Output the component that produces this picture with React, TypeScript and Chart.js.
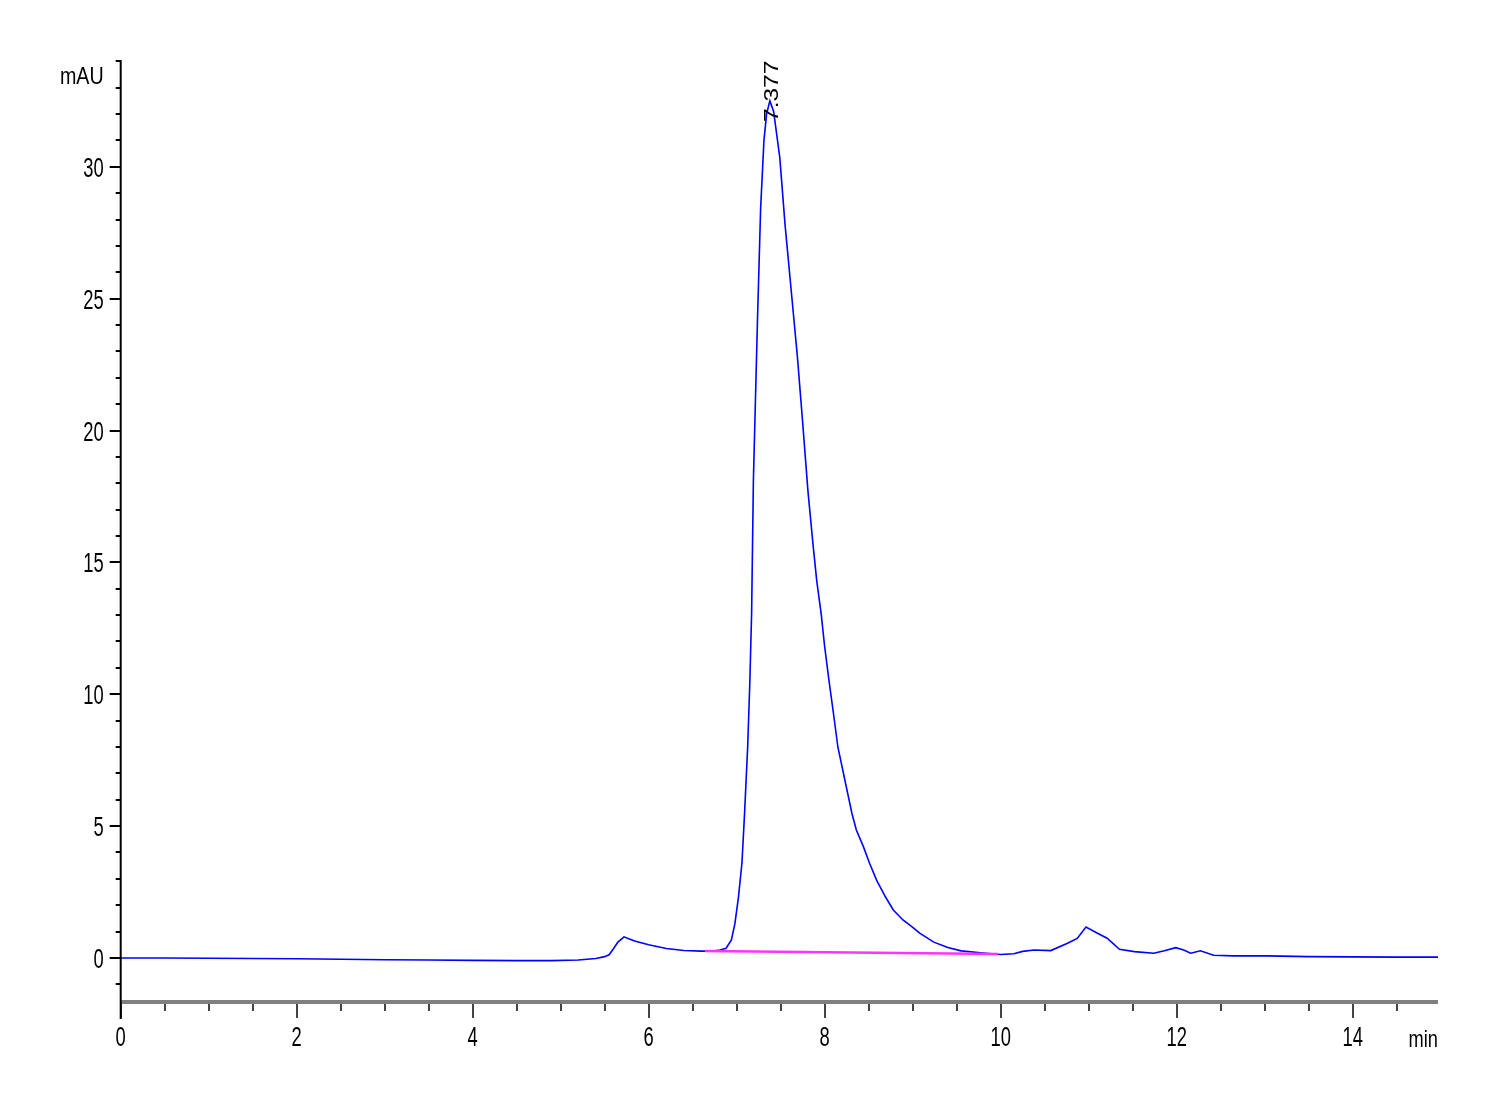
import { useEffect, useRef } from "react";
import { Chart, registerables } from "chart.js";

Chart.register(...registerables);

// Chromatogram trace (retention time in min, absorbance in mAU)
const TIME = [
  0.0, 0.5, 1.0, 1.5, 2.0, 2.5, 3.0, 3.5, 4.0, 4.5, 4.9, 5.2, 5.4, 5.5, 5.55, 5.6, 5.65, 5.72, 5.78, 5.85,
  6.0, 6.2, 6.4, 6.6, 6.75, 6.81, 6.88, 6.94, 6.98, 7.02, 7.06, 7.09, 7.125, 7.15, 7.17, 7.18, 7.19, 7.235,
  7.272, 7.31, 7.34, 7.377, 7.42, 7.49, 7.55, 7.62, 7.69, 7.75, 7.81, 7.87, 7.91, 7.96, 8.0, 8.05, 8.1, 8.15,
  8.23, 8.31, 8.36, 8.44, 8.51, 8.59, 8.69, 8.78, 8.89, 8.99, 9.08, 9.24, 9.4, 9.55, 9.8, 10.0, 10.15, 10.25,
  10.38, 10.57, 10.76, 10.87, 10.97, 11.1, 11.21, 11.35, 11.52, 11.74, 11.86, 11.99, 12.08, 12.16, 12.27,
  12.42, 12.65, 13.03, 13.49, 14.0, 14.5, 14.97,
];
const SIGNAL = [
  0.0, 0.0, -0.01, -0.02, -0.03, -0.05, -0.07, -0.08, -0.09, -0.1, -0.1, -0.08, -0.02, 0.05, 0.12, 0.35, 0.6, 0.8, 0.72, 0.63,
  0.5, 0.36, 0.28, 0.26, 0.27, 0.3, 0.37, 0.68, 1.3, 2.3, 3.6, 5.5, 8.0, 10.5, 13.1, 15.6, 18.1, 24.0,
  28.4, 31.0, 32.0, 32.5, 32.1, 30.35, 27.8, 25.3, 22.8, 20.3, 17.7, 15.6, 14.3, 13.06, 11.8, 10.5, 9.27, 8.0,
  6.74, 5.48, 4.85, 4.22, 3.59, 2.95, 2.32, 1.82, 1.44, 1.19, 0.94, 0.6, 0.4, 0.27, 0.19, 0.13, 0.16, 0.25,
  0.3, 0.28, 0.56, 0.74, 1.17, 0.94, 0.75, 0.33, 0.24, 0.18, 0.27, 0.39, 0.3, 0.18, 0.27,
  0.1, 0.08, 0.08, 0.05, 0.04, 0.03, 0.03,
];

// Integration baseline
const BASELINE_TIME = [6.64, 9.97];
const BASELINE_SIGNAL = [0.26, 0.15];

// Peak annotation
const PEAK_TIME = 7.377;
const PEAK_LABEL = "7.377";

// Axis ticks
const X_MAJOR = [0, 2, 4, 6, 8, 10, 12, 14];
const X_MINOR = [0.5, 1, 1.5, 2.5, 3, 3.5, 4.5, 5, 5.5, 6.5, 7, 7.5, 8.5, 9, 9.5, 10.5, 11, 11.5, 12.5, 13, 13.5, 14.5];
const Y_MAJOR = [0, 5, 10, 15, 20, 25, 30];
const Y_MINOR = [-1, 1, 2, 3, 4, 6, 7, 8, 9, 11, 12, 13, 14, 16, 17, 18, 19, 21, 22, 23, 24, 26, 27, 28, 29, 31, 32, 33, 34];

const X_MIN = 0;
const X_MAX = 14.97;
const Y_MIN = -1.67;
const Y_MAX = 34.05;

const X_UNIT = "min";
const Y_UNIT = "mAU";

const FONT_FAMILY = "'Liberation Sans', Arial, sans-serif";

function squeezedText(
  ctx: CanvasRenderingContext2D,
  text: string,
  x: number,
  y: number,
  size: number,
  sx: number,
  align: "left" | "right" | "center",
  baseline: CanvasTextBaseline
) {
  ctx.save();
  ctx.translate(x, y);
  ctx.scale(sx, 1);
  ctx.font = `${size}px ${FONT_FAMILY}`;
  ctx.textAlign = align;
  ctx.textBaseline = baseline;
  ctx.fillText(text, 0, 0);
  ctx.restore();
}

const decorPlugin = {
  id: "decor",
  afterDraw(chart: any) {
    const ctx = chart.ctx as CanvasRenderingContext2D;
    const xs = chart.scales.x;
    const ys = chart.scales.y;
    const a = chart.chartArea;
    ctx.save();

    // x axis bar
    ctx.strokeStyle = "#808080";
    ctx.lineWidth = 4;
    ctx.beginPath();
    ctx.moveTo(a.left, a.bottom);
    ctx.lineTo(a.right, a.bottom);
    ctx.stroke();

    // x ticks
    ctx.lineWidth = 2;
    ctx.strokeStyle = "#444";
    X_MAJOR.forEach((v) => {
      const px = Math.round(xs.getPixelForValue(v));
      ctx.beginPath();
      ctx.moveTo(px, a.bottom + 2);
      ctx.lineTo(px, a.bottom + 16);
      ctx.stroke();
    });
    X_MINOR.forEach((v) => {
      const px = Math.round(xs.getPixelForValue(v));
      ctx.beginPath();
      ctx.moveTo(px, a.bottom + 2);
      ctx.lineTo(px, a.bottom + 9);
      ctx.stroke();
    });

    // y axis line
    ctx.strokeStyle = "#000";
    ctx.lineWidth = 2;
    ctx.beginPath();
    ctx.moveTo(a.left, a.top);
    ctx.lineTo(a.left, a.bottom + 17);
    ctx.stroke();

    // y ticks
    Y_MAJOR.forEach((v) => {
      const py = Math.round(ys.getPixelForValue(v));
      ctx.beginPath();
      ctx.moveTo(a.left - 11, py);
      ctx.lineTo(a.left, py);
      ctx.stroke();
    });
    Y_MINOR.forEach((v) => {
      const py = Math.round(ys.getPixelForValue(v));
      ctx.beginPath();
      ctx.moveTo(a.left - 5, py);
      ctx.lineTo(a.left, py);
      ctx.stroke();
    });

    ctx.fillStyle = "#000";

    // tick labels
    Y_MAJOR.forEach((v) => {
      const py = ys.getPixelForValue(v);
      squeezedText(ctx, String(v), a.left - 17, py + 10, 27, 0.68, "right", "alphabetic");
    });
    X_MAJOR.forEach((v) => {
      const px = xs.getPixelForValue(v);
      squeezedText(ctx, String(v), px, a.bottom + 44, 27, 0.68, "center", "alphabetic");
    });

    // unit labels
    squeezedText(ctx, Y_UNIT, a.left - 17, a.top + 24, 24, 0.82, "right", "alphabetic");
    squeezedText(ctx, X_UNIT, a.right, a.bottom + 45, 24, 0.76, "right", "alphabetic");

    // peak label (rotated)
    const pxPeak = xs.getPixelForValue(PEAK_TIME);
    ctx.translate(pxPeak + 8, 122);
    ctx.rotate(-Math.PI / 2);
    ctx.scale(1, 0.84);
    ctx.font = `24.5px ${FONT_FAMILY}`;
    ctx.textAlign = "left";
    ctx.textBaseline = "alphabetic";
    ctx.fillText(PEAK_LABEL, 0, 0);

    ctx.restore();
  },
};

export default function App() {
  const ref = useRef<HTMLCanvasElement | null>(null);

  useEffect(() => {
    if (!ref.current) return;
    const trace = TIME.map((t, i) => ({ x: t, y: SIGNAL[i] }));
    const base = BASELINE_TIME.map((t, i) => ({ x: t, y: BASELINE_SIGNAL[i] }));
    const chart = new Chart(ref.current, {
      type: "line",
      data: {
        datasets: [
          {
            label: "Baseline",
            data: base,
            borderColor: "#ff33ff",
            borderWidth: 2.5,
            pointRadius: 0,
            order: 0,
          },
          {
            label: "Signal",
            data: trace,
            borderColor: "#0000ff",
            borderWidth: 1.6,
            pointRadius: 0,
            tension: 0,
            order: 1,
          },
        ],
      },
      options: {
        responsive: false,
        animation: false,
        layout: { padding: { left: 0, top: 60, right: 62, bottom: 0 } },
        plugins: {
          legend: { display: false },
          tooltip: { enabled: false },
        },
        scales: {
          x: {
            type: "linear",
            min: X_MIN,
            max: X_MAX,
            border: { display: false },
            grid: { display: false },
            afterBuildTicks: (s: any) => {
              s.ticks = X_MAJOR.map((v) => ({ value: v }));
            },
            afterFit: (s: any) => {
              s.height = 98;
            },
            ticks: { display: false },
          },
          y: {
            type: "linear",
            min: Y_MIN,
            max: Y_MAX,
            border: { display: false },
            grid: { display: false },
            afterBuildTicks: (s: any) => {
              s.ticks = Y_MAJOR.map((v) => ({ value: v }));
            },
            afterFit: (s: any) => {
              s.width = 120.7;
            },
            ticks: { display: false },
          },
        },
      },
      plugins: [decorPlugin],
    });
    return () => chart.destroy();
  }, []);

  return (
    <div style={{ position: "fixed", left: 0, top: 0, width: 1500, height: 1100, background: "#fff" }}>
      <canvas ref={ref} width={1500} height={1100} style={{ width: 1500, height: 1100 }} />
    </div>
  );
}
